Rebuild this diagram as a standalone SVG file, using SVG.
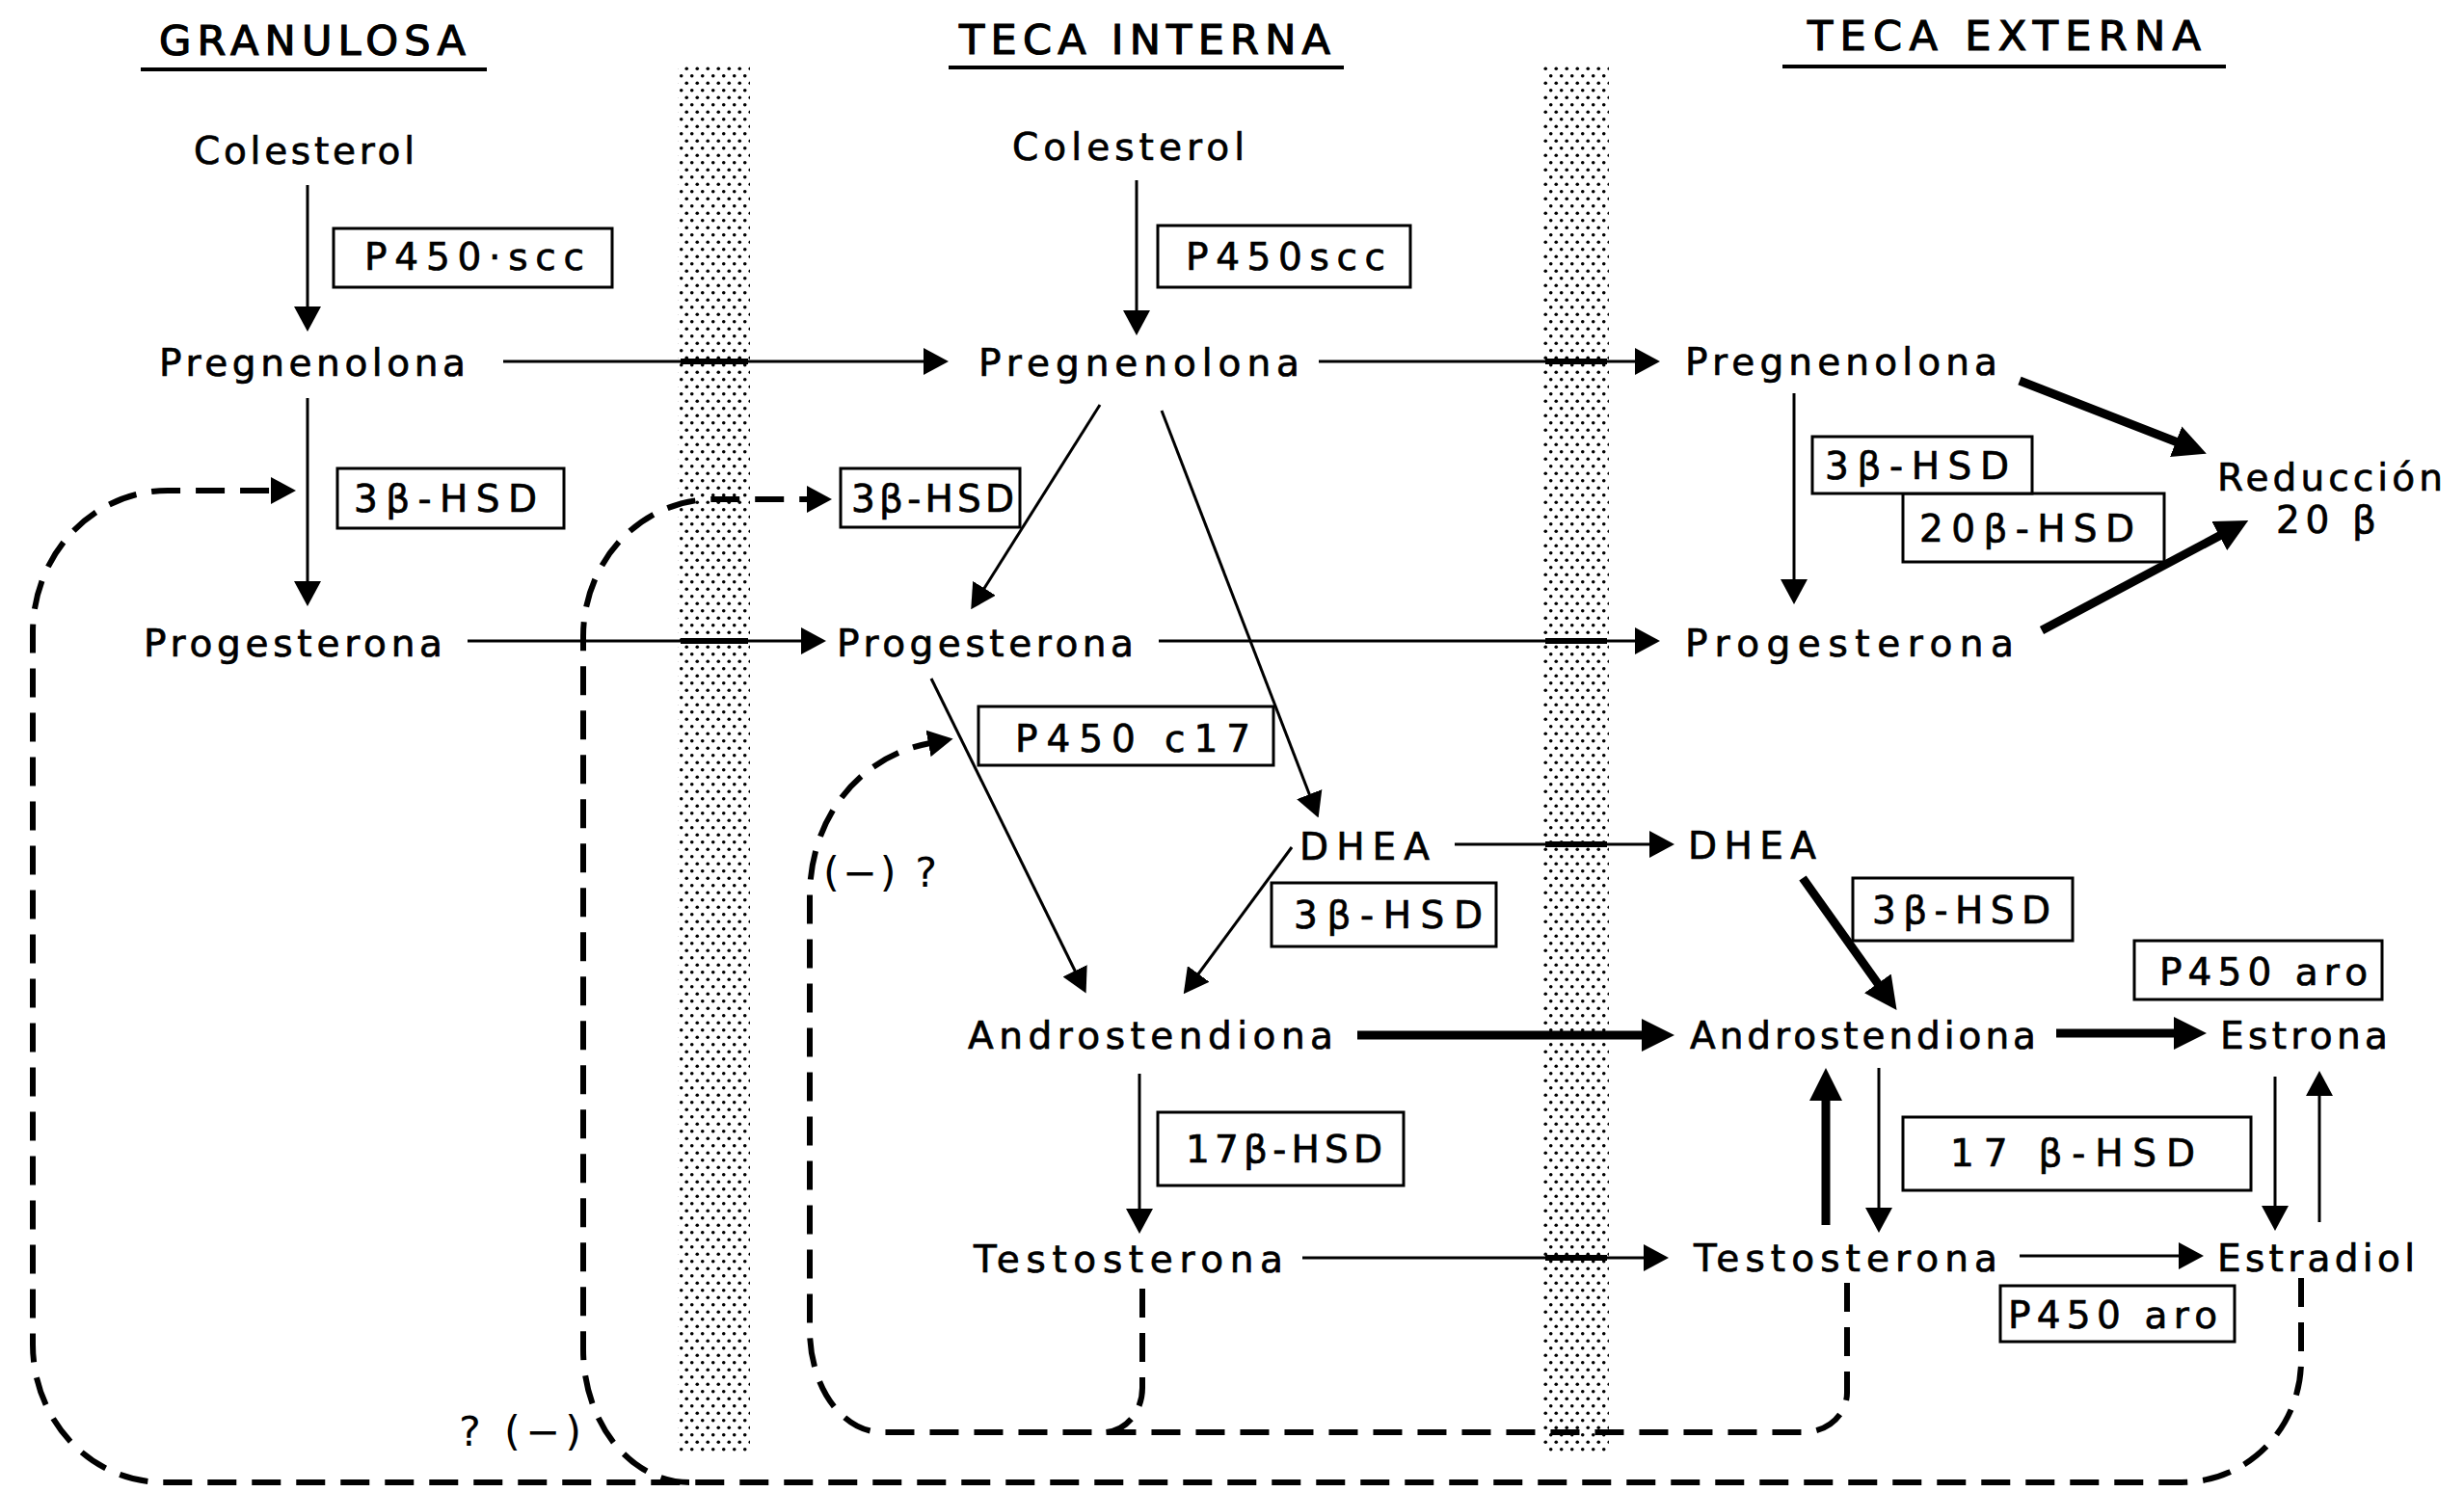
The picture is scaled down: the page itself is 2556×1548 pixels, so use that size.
<svg xmlns="http://www.w3.org/2000/svg" width="2556" height="1548" viewBox="0 0 2556 1548">
<defs>
<style>
text{font-family:"DejaVu Sans","Liberation Sans",Arial,sans-serif;fill:#000}
.h{font-size:43px;stroke:#000;stroke-width:1.2px}
.n{font-size:39px;stroke:#000;stroke-width:0.7px}
.e{font-size:39px;stroke:#000;stroke-width:0.7px}
.q{font-size:43px}
.box{fill:#fff;stroke:#000;stroke-width:3}
.ul{stroke:#000;stroke-width:4}
.ln{fill:none;stroke:#000;stroke-width:3}
.bd{fill:none;stroke:#000;stroke-width:9}
.ds{fill:none;stroke:#000;stroke-width:6;stroke-dasharray:30 16}
.x{stroke:#000;stroke-width:6}
.bar{fill:url(#dots)}
</style>
<marker id="a" markerUnits="userSpaceOnUse" markerWidth="26" markerHeight="28" viewBox="0 0 26 28" refX="2" refY="14" orient="auto"><path d="M0,0 L26,14 L0,28 z" fill="#000"/></marker>
<marker id="b" markerUnits="userSpaceOnUse" markerWidth="34" markerHeight="34" viewBox="0 0 34 34" refX="2" refY="17" orient="auto"><path d="M0,0 L34,17 L0,34 z" fill="#000"/></marker>
<pattern id="dots" width="11" height="15" patternUnits="userSpaceOnUse"><rect width="11" height="15" fill="#fff"/><circle cx="2.75" cy="3.75" r="1.8" fill="#000"/><circle cx="8.25" cy="11.25" r="1.8" fill="#000"/></pattern>
</defs>
<rect width="2556" height="1548" fill="#fff"/>

<g id="membranes">
<rect class="bar" x="703" y="67" width="75" height="1442"/>
<rect class="bar" x="1601" y="66" width="68" height="1443"/>
</g>

<g id="headers">
<g id="h-granulosa"><text class="h" x="165" y="57" textLength="318" lengthAdjust="spacing">GRANULOSA</text><line class="ul" x1="146" y1="72" x2="505" y2="72"/></g>
<g id="h-teca-interna"><text class="h" x="995" y="56" textLength="385" lengthAdjust="spacing">TECA INTERNA</text><line class="ul" x1="984" y1="70" x2="1394" y2="70"/></g>
<g id="h-teca-externa"><text class="h" x="1875" y="52" textLength="408" lengthAdjust="spacing">TECA EXTERNA</text><line class="ul" x1="1849" y1="69" x2="2309" y2="69"/></g>
</g>

<g id="connectors">
<!-- thin arrows -->
<line class="ln" x1="319" y1="192" x2="319" y2="320" marker-end="url(#a)"/>
<line class="ln" x1="319" y1="413" x2="319" y2="605" marker-end="url(#a)"/>
<line class="ln" x1="522" y1="375" x2="960" y2="375" marker-end="url(#a)"/>
<line class="ln" x1="485" y1="665" x2="833" y2="665" marker-end="url(#a)"/>
<line class="ln" x1="1179" y1="187" x2="1179" y2="324" marker-end="url(#a)"/>
<line class="ln" x1="1368" y1="375" x2="1698" y2="375" marker-end="url(#a)"/>
<line class="ln" x1="1141" y1="420" x2="1020" y2="612" marker-end="url(#a)"/>
<line class="ln" x1="1205" y1="426" x2="1359" y2="826" marker-end="url(#a)"/>
<line class="ln" x1="1202" y1="665" x2="1698" y2="665" marker-end="url(#a)"/>
<line class="ln" x1="966" y1="704" x2="1116" y2="1009" marker-end="url(#a)"/>
<line class="ln" x1="1340" y1="879" x2="1242" y2="1012" marker-end="url(#a)"/>
<line class="ln" x1="1509" y1="876" x2="1713" y2="876" marker-end="url(#a)"/>
<line class="ln" x1="1182" y1="1114" x2="1182" y2="1256" marker-end="url(#a)"/>
<line class="ln" x1="1351" y1="1305" x2="1707" y2="1305" marker-end="url(#a)"/>
<line class="ln" x1="1861" y1="408" x2="1861" y2="603" marker-end="url(#a)"/>
<line class="ln" x1="1949" y1="1108" x2="1949" y2="1255" marker-end="url(#a)"/>
<line class="ln" x1="2360" y1="1117" x2="2360" y2="1253" marker-end="url(#a)"/>
<line class="ln" x1="2406" y1="1268" x2="2406" y2="1135" marker-end="url(#a)"/>
<line class="ln" x1="2095" y1="1303" x2="2262" y2="1303" marker-end="url(#a)"/>
<!-- thickened where crossing the membranes -->
<line class="x" x1="706" y1="375" x2="776" y2="375"/>
<line class="x" x1="706" y1="665" x2="776" y2="665"/>
<line class="x" x1="1603" y1="375" x2="1667" y2="375"/>
<line class="x" x1="1603" y1="665" x2="1667" y2="665"/>
<line class="x" x1="1603" y1="876" x2="1667" y2="876"/>
<line class="x" x1="1603" y1="1305" x2="1667" y2="1305"/>
<!-- bold arrows -->
<line class="bd" x1="1408" y1="1074" x2="1705" y2="1074" marker-end="url(#b)"/>
<line class="bd" x1="2133" y1="1072" x2="2257" y2="1072" marker-end="url(#b)"/>
<line class="bd" x1="1870" y1="911" x2="1949" y2="1022" marker-end="url(#b)"/>
<line class="bd" x1="1894" y1="1271" x2="1894" y2="1140" marker-end="url(#b)"/>
<line class="bd" x1="2095" y1="395" x2="2259" y2="459" marker-end="url(#b)"/>
<line class="bd" x1="2118" y1="654" x2="2304" y2="555" marker-end="url(#b)"/>
<!-- dashed feedback loops -->
<path class="ds" d="M2387,1326 V1412 A124,126 0 0 1 2263,1538 H169 A135,143 0 0 1 34,1395 V656 A140,147 0 0 1 174,509 H283" marker-end="url(#a)"/>
<path class="ds" d="M715,1538 A110,138 0 0 1 605,1400 V660 A135,142 0 0 1 740,518 H839" marker-end="url(#a)"/>
<path class="ds" d="M1916,1331 V1445 A45,41 0 0 1 1871,1486 H915 A75,106 0 0 1 840,1380 V930 C840,850 890,785 965,771" marker-end="url(#a)"/>
<path class="ds" d="M1185,1337 V1440 A40,46 0 0 1 1145,1486"/>
</g>

<g id="gran-colesterol"><text class="n" x="201" y="170" textLength="229" lengthAdjust="spacing">Colesterol</text></g>
<g id="gran-pregnenolona"><text class="n" x="165" y="390" textLength="318" lengthAdjust="spacing">Pregnenolona</text></g>
<g id="gran-progesterona"><text class="n" x="149" y="681" textLength="310" lengthAdjust="spacing">Progesterona</text></g>
<g id="int-colesterol"><text class="n" x="1050" y="166" textLength="241" lengthAdjust="spacing">Colesterol</text></g>
<g id="int-pregnenolona"><text class="n" x="1015" y="390" textLength="333" lengthAdjust="spacing">Pregnenolona</text></g>
<g id="int-progesterona"><text class="n" x="868" y="681" textLength="308" lengthAdjust="spacing">Progesterona</text></g>
<g id="int-dhea"><text class="n" x="1348" y="892" textLength="135" lengthAdjust="spacing">DHEA</text></g>
<g id="int-androstendiona"><text class="n" x="1004" y="1088" textLength="379" lengthAdjust="spacing">Androstendiona</text></g>
<g id="int-testosterona"><text class="n" x="1010" y="1320" textLength="321" lengthAdjust="spacing">Testosterona</text></g>
<g id="ext-pregnenolona"><text class="n" x="1748" y="389" textLength="324" lengthAdjust="spacing">Pregnenolona</text></g>
<g id="ext-progesterona"><text class="n" x="1748" y="681" textLength="341" lengthAdjust="spacing">Progesterona</text></g>
<g id="ext-dhea"><text class="n" x="1751" y="891" textLength="133" lengthAdjust="spacing">DHEA</text></g>
<g id="ext-androstendiona"><text class="n" x="1753" y="1088" textLength="359" lengthAdjust="spacing">Androstendiona</text></g>
<g id="ext-estrona"><text class="n" x="2303" y="1088" textLength="174" lengthAdjust="spacing">Estrona</text></g>
<g id="ext-testosterona"><text class="n" x="1757" y="1319" textLength="315" lengthAdjust="spacing">Testosterona</text></g>
<g id="ext-estradiol"><text class="n" x="2300" y="1319" textLength="205" lengthAdjust="spacing">Estradiol</text></g>
<g id="ext-reduccion"><text class="n" x="2300" y="509" textLength="234" lengthAdjust="spacing">Reducción</text><text class="n" x="2361" y="553" textLength="104" lengthAdjust="spacing">20 β</text></g>

<g id="enz-gran-p450scc"><rect class="box" x="346" y="237" width="289" height="61"/><text class="e" x="378" y="280" textLength="228" lengthAdjust="spacing">P450·scc</text></g>
<g id="enz-gran-3bhsd"><rect class="box" x="350" y="486" width="235" height="62"/><text class="e" x="367" y="531" textLength="190" lengthAdjust="spacing">3β-HSD</text></g>
<g id="enz-int-p450scc"><rect class="box" x="1201" y="234" width="262" height="64"/><text class="e" x="1230" y="280" textLength="207" lengthAdjust="spacing">P450scc</text></g>
<g id="enz-int-3bhsd-a"><rect class="box" x="872" y="486" width="186" height="61"/><text class="e" x="883" y="531" textLength="169" lengthAdjust="spacing">3β-HSD</text></g>
<g id="enz-int-p450c17"><rect class="box" x="1015" y="733" width="306" height="61"/><text class="e" x="1053" y="780" textLength="244" lengthAdjust="spacing">P450 c17</text></g>
<g id="enz-int-3bhsd-b"><rect class="box" x="1319" y="916" width="233" height="66"/><text class="e" x="1342" y="963" textLength="196" lengthAdjust="spacing">3β-HSD</text></g>
<g id="enz-int-17bhsd"><rect class="box" x="1201" y="1154" width="255" height="76"/><text class="e" x="1230" y="1206" textLength="204" lengthAdjust="spacing">17β-HSD</text></g>
<g id="enz-ext-20bhsd"><rect class="box" x="1974" y="512" width="271" height="71"/><text class="e" x="1991" y="562" textLength="223" lengthAdjust="spacing">20β-HSD</text></g>
<g id="enz-ext-3bhsd-a"><rect class="box" x="1880" y="453" width="228" height="59"/><text class="e" x="1893" y="497" textLength="191" lengthAdjust="spacing">3β-HSD</text></g>
<g id="enz-ext-3bhsd-b"><rect class="box" x="1922" y="911" width="228" height="65"/><text class="e" x="1942" y="958" textLength="185" lengthAdjust="spacing">3β-HSD</text></g>
<g id="enz-ext-p450aro-a"><rect class="box" x="2214" y="976" width="257" height="61"/><text class="e" x="2240" y="1022" textLength="216" lengthAdjust="spacing">P450 aro</text></g>
<g id="enz-ext-17bhsd"><rect class="box" x="1974" y="1159" width="361" height="76"/><text class="e" x="2023" y="1210" textLength="254" lengthAdjust="spacing">17 β-HSD</text></g>
<g id="enz-ext-p450aro-b"><rect class="box" x="2075" y="1334" width="243" height="58"/><text class="e" x="2083" y="1378" textLength="217" lengthAdjust="spacing">P450 aro</text></g>

<g id="label-inhib-gran"><text class="q" x="476" y="1500" textLength="127" lengthAdjust="spacing">? (−)</text></g>
<g id="label-inhib-c17"><text class="q" x="854" y="920" textLength="118" lengthAdjust="spacing">(−) ?</text></g>
</svg>
